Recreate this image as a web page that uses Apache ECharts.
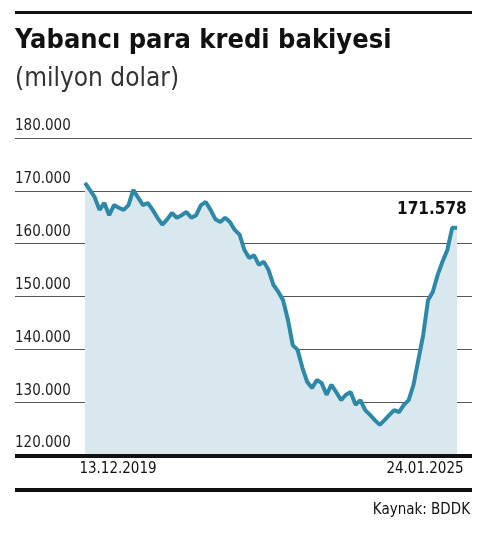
<!DOCTYPE html>
<html>
<head>
<meta charset="utf-8">
<script src="https://cdn.jsdelivr.net/npm/echarts@6/dist/echarts.min.js"></script>
<style>
  html, body { margin: 0; padding: 0; background: #fff; }
  #chart { width: 478px; height: 535px; }
</style>
</head>
<body>
<div id="chart"></div>
<script>
// haftalık bakiye (milyon dolar)
const values = [
  171.5, 170.2, 168.8, 166.4, 167.7, 165.4, 167.3, 166.8, 166.4, 167.3,
  170.2, 168.7, 167.3, 167.7, 166.4, 164.9, 163.6, 164.6, 165.8, 164.9,
  165.4, 166.0, 164.9, 165.4, 167.3, 167.9, 166.4, 164.6, 164.1, 164.9,
  164.1, 162.6, 161.7, 158.8, 157.3, 157.8, 156.0, 156.6, 155.0, 152.2,
  150.9, 149.3, 145.6, 140.8, 139.9, 136.5, 133.8, 132.7, 134.2, 133.6,
  131.4, 133.3, 131.9, 130.4, 131.4, 131.9, 129.5, 130.4, 128.5, 127.6,
  126.6, 125.7, 126.6, 127.6, 128.5, 128.1, 129.5, 130.4, 133.3, 138.0,
  142.7, 149.3, 150.9, 154.1, 156.6, 158.8, 163.0, 163.0
];
const dateLabels = ['13.12.2019', '24.01.2025'];
const lastLabel = '171.578';
const yTicks = [120, 130, 140, 150, 160, 170, 180];

const font = "'Liberation Sans Narrow', 'DejaVu Sans Condensed', 'Roboto', sans-serif";
const chart = echarts.init(document.getElementById('chart'));
const n = values.length;
const step = 372 / (n - 1);

chart.setOption({
  animation: false,
  grid: { left: 15, right: 6, top: 138, bottom: 80 },
  xAxis: {
    type: 'value',
    min: -70 / step,
    max: (n - 1) + 15 / step,
    axisLine: { show: false }, axisTick: { show: false },
    axisLabel: { show: false }, splitLine: { show: false }
  },
  yAxis: {
    type: 'value', min: yTicks[0], max: yTicks[yTicks.length - 1], interval: 10,
    axisLine: { show: false }, axisTick: { show: false },
    axisLabel: {
      inside: true, verticalAlign: 'bottom', margin: 0, padding: [0, 0, 4, 0],
      color: '#222', fontFamily: font, fontSize: 15,
      formatter: v => v.toFixed(0) + '.000'
    },
    splitLine: { lineStyle: { color: '#555', width: 1 } }
  },
  series: [{
    type: 'line',
    data: values.map((v, i) => [i, v]),
    showSymbol: false,
    lineStyle: { color: '#2e88a8', width: 4 },
    areaStyle: { color: '#d9e7ee', opacity: 1, origin: 'start' },
    endLabel: {
      show: true, formatter: lastLabel, fontFamily: font, fontWeight: 'bold',
      fontSize: 17, color: '#111', offset: [-68, -18]
    },
    z: 3
  }],
  graphic: [
    { type: 'rect', shape: { x: 15, y: 11, width: 457, height: 3 }, style: { fill: '#111' } },
    { type: 'text', left: 15, top: 27, style: { text: 'Yabancı para kredi bakiyesi', font: 'bold 27px ' + font, fill: '#111' } },
    { type: 'text', left: 15, top: 66, style: { text: '(milyon dolar)', font: '26px ' + font, fill: '#333' } },
    { type: 'rect', shape: { x: 15, y: 454, width: 457, height: 4 }, style: { fill: '#111' }, z: 10 },
    { type: 'text', x: 118, y: 462, style: { text: dateLabels[0], font: '15px ' + font, fill: '#111', align: 'center' } },
    { type: 'text', x: 425, y: 462, style: { text: dateLabels[1], font: '15px ' + font, fill: '#111', align: 'center' } },
    { type: 'rect', shape: { x: 15, y: 488, width: 457, height: 4 }, style: { fill: '#111' } },
    { type: 'text', x: 470, y: 503, style: { text: 'Kaynak: BDDK', font: '15px ' + font, fill: '#111', align: 'right' } }
  ]
});
</script>
</body>
</html>
